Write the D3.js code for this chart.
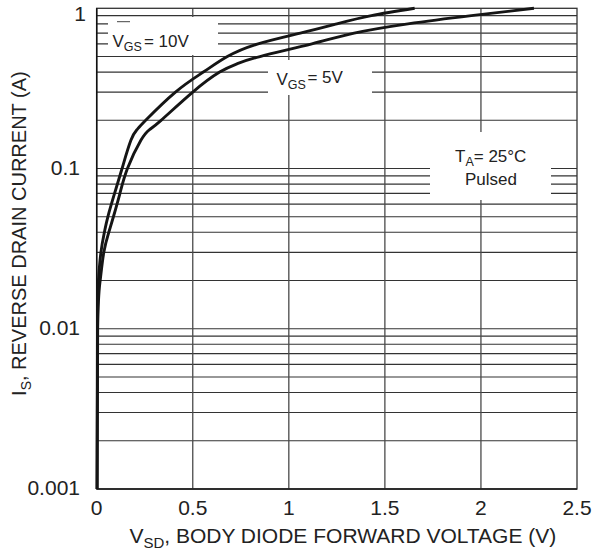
<!DOCTYPE html>
<html><head><meta charset="utf-8">
<script src="https://cdn.jsdelivr.net/npm/d3@7"></script>
<style>
html,body{margin:0;padding:0;background:#fff;}
svg{display:block;font-family:"Liberation Sans",Arial,Helvetica,sans-serif;}
</style></head>
<body><svg id="c" width="595" height="556"></svg>
<script>
// ---- data ----
const xTicks = [0, 0.5, 1, 1.5, 2, 2.5];
const xTickLabels = ["0", "0.5", "1", "1.5", "2", "2.5"];
const yTicks = [0.001, 0.01, 0.1, 1];
const yTickLabels = ["0.001", "0.01", "0.1", "1"];
// V_GS = 10V
const vsd10 = [0.002, 0.004, 0.009, 0.022, 0.040, 0.058, 0.093, 0.132, 0.178, 0.210, 0.255, 0.410, 0.555, 0.680, 0.840, 1.060, 1.250, 1.430, 1.655];
const is10  = [0.001, 0.01,  0.02,  0.03,  0.04,  0.05,  0.07,  0.10,  0.15,  0.175, 0.20,  0.30,  0.40,  0.50,  0.60,  0.70,  0.80,  0.90,  1.00];
// V_GS = 5V
const vsd5 = [0.002, 0.005, 0.018, 0.037, 0.063, 0.087, 0.121, 0.160, 0.230, 0.275, 0.335, 0.500, 0.640, 0.730, 0.850, 1.120, 1.340, 1.620, 1.950, 2.276];
const is5  = [0.001, 0.01,  0.02,  0.03,  0.04,  0.05,  0.07,  0.10,  0.15,  0.175, 0.20,  0.30,  0.40,  0.45,  0.50,  0.60,  0.70,  0.80,  0.90,  1.00];

// ---- layout ----
const svg = d3.select("#c");
const L = 96.7, R = 577, T = 8.3, B = 489;
const x = d3.scaleLinear().domain([0, 2.5]).range([L, R]);
const y = d3.scaleLog().domain([0.001, 1]).range([B, T]);

// grid: horizontal minor lines every decade
const hVals = [];
for (let d = 0.001; d < 0.999; d *= 10) for (let k = 1; k <= 9; k++) hVals.push(+(d * k).toPrecision(3));
const g = svg.append("g");
g.selectAll("line.h").data(hVals).enter().append("line")
  .attr("x1", L).attr("x2", R)
  .attr("y1", d => y(d)).attr("y2", d => y(d))
  .attr("stroke", "#333").attr("stroke-width", 1.15);
g.selectAll("line.v").data(xTicks.slice(1, -1)).enter().append("line")
  .attr("x1", d => x(d)).attr("x2", d => x(d))
  .attr("y1", T).attr("y2", B)
  .attr("stroke", "#4a4a4a").attr("stroke-width", 1.3);

// white label boxes interrupting the grid
const boxes = [[108, 17, 110, 38], [268, 60, 104, 35], [430, 132, 121, 68]];
svg.selectAll("rect.box").data(boxes).enter().append("rect")
  .attr("x", d => d[0]).attr("y", d => d[1]).attr("width", d => d[2]).attr("height", d => d[3])
  .attr("fill", "#fff");

// frame
svg.append("rect").attr("x", L).attr("y", T).attr("width", R - L).attr("height", B - T)
  .attr("fill", "none").attr("stroke", "#333").attr("stroke-width", 1.3);
svg.append("line").attr("x1", L).attr("x2", L).attr("y1", T).attr("y2", B).attr("stroke", "#111").attr("stroke-width", 1.5);
svg.append("line").attr("x1", L).attr("x2", R).attr("y1", B).attr("y2", B).attr("stroke", "#222").attr("stroke-width", 1.3);

// curves
const line = d3.line().x(d => x(d[0])).y(d => y(d[1])).curve(d3.curveNatural);
[[vsd10, is10], [vsd5, is5]].forEach(([vs, is]) => {
  svg.append("path").datum(vs.map((v, i) => [v, is[i]]))
    .attr("d", line).attr("fill", "none").attr("stroke", "#151515").attr("stroke-width", 2.9)
    .attr("stroke-linejoin", "round");
});

// tick labels
svg.selectAll("text.xt").data(xTicks).enter().append("text")
  .attr("x", d => x(d)).attr("y", 515).attr("text-anchor", "middle")
  .attr("font-size", 21).attr("fill", "#222")
  .text((d, i) => xTickLabels[i]);
svg.selectAll("text.yt").data(yTicks).enter().append("text")
  .attr("x", d => d === 1 ? 86 : 80).attr("y", d => y(d) + (d === 1 ? 12.5 : 6)).attr("text-anchor", "end")
  .attr("font-size", 21).attr("fill", "#222")
  .text((d, i) => yTickLabels[i]);

// axis titles
const xt = svg.append("text").attr("x", (L + R) / 2 + 6).attr("y", 543).attr("text-anchor", "middle")
  .attr("font-size", 21).attr("fill", "#222");
xt.append("tspan").text("V");
xt.append("tspan").attr("font-size", 15).attr("dy", 5).text("SD");
xt.append("tspan").attr("dy", -5).text(", BODY DIODE FORWARD VOLTAGE (V)");

const yt = svg.append("text").attr("transform", `translate(26,${(T + B) / 2 - 15}) rotate(-90)`)
  .attr("text-anchor", "middle").attr("font-size", 20).attr("fill", "#222");
yt.append("tspan").text("I");
yt.append("tspan").attr("font-size", 14).attr("dy", 5).text("S");
yt.append("tspan").attr("dy", -5).text(", REVERSE DRAIN CURRENT (A)");

// annotations
function label(xp, yp, main, sub, rest, restDy, gap) {
  const t = svg.append("text").attr("x", xp).attr("y", yp).attr("font-size", 17).attr("fill", "#222");
  t.append("tspan").text(main);
  t.append("tspan").attr("font-size", 12.5).attr("dy", 4).text(sub);
  t.append("tspan").attr("dy", restDy).attr("dx", gap).text(rest);
  return t;
}
label(112.5, 46.5, "V", "GS", "= 10V", -4, 2);
svg.append("line").attr("x1", 117).attr("x2", 130).attr("y1", 21.7).attr("y2", 21.7).attr("stroke", "#444").attr("stroke-width", 1);
label(276.5, 84.5, "V", "GS", "= 5V", -5.5, 1.5);
label(455, 161.7, "T", "A", "= 25°C", -4, 0);
svg.append("text").attr("x", 491).attr("y", 185).attr("text-anchor", "middle")
  .attr("font-size", 17).attr("fill", "#222").text("Pulsed");
</script></body></html>
